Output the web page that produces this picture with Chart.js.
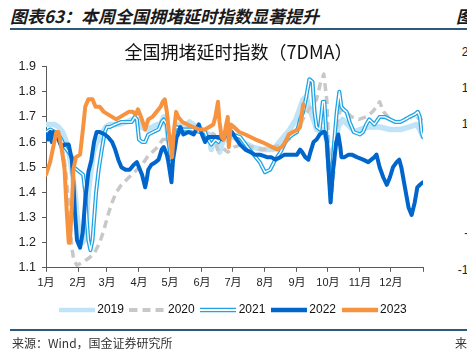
<!DOCTYPE html>
<html lang="zh">
  <head>
    <meta charset="UTF-8" />
    <title>全国拥堵延时指数</title>
    <style>
      body {
        margin: 0;
        background: #fff;
      }

      .page {
        position: relative;
        width: 467px;
        height: 353px;
        overflow: hidden;
        font-family: "Liberation Sans", "Noto Sans CJK SC", sans-serif;
      }

      .heading {
        position: absolute;
        top: 3px;
        font-family: "Noto Sans CJK SC", sans-serif;
        font-size: 17px;
        font-weight: bold;
        font-style: italic;
        color: #1a1a1a;
        white-space: nowrap;
      }

      .rule {
        position: absolute;
        left: 10px;
        height: 1.5px;
        background: #2d5a78;
      }

      .source {
        position: absolute;
        top: 334px;
        font-family: "Noto Sans CJK SC", sans-serif;
        font-size: 12px;
        color: #333;
        white-space: nowrap;
      }

      .next-axis {
        position: absolute;
        right: -8px;
        font-size: 12px;
        color: #222;
        text-align: right;
      }

      .chart-box {
        position: absolute;
        left: 0;
        top: 0;
        width: 467px;
        height: 353px;
      }
    </style>
  </head>
  <body>
    <div class="page">
      <div class="heading" style="left: 10px">图表63：本周全国拥堵延时指数显著提升</div>
      <div class="heading" style="left: 456px">图</div>
      <div class="rule" style="top: 28px; width: 457px"></div>

      <div class="next-axis" style="top: 45px">20</div>
      <div class="next-axis" style="top: 81px">15</div>
      <div class="next-axis" style="top: 117px">10</div>
      <div class="next-axis" style="top: 154px">5</div>
      <div class="next-axis" style="top: 190px">0</div>
      <div class="next-axis" style="top: 226px">-5</div>
      <div class="next-axis" style="top: 263px">-10</div>

      <div class="chart-box"><canvas id="chart"></canvas></div>

      <div class="rule" style="top: 329px; width: 457px"></div>
      <div class="source" style="left: 12px">来源：Wind，国金证券研究所</div>
      <div class="source" style="left: 455px">来</div>
    </div>

    <script src="https://cdn.jsdelivr.net/npm/chart.js"></script>

    <script>
      // day of year where each month starts, plus the year end
      const monthDays = [0, 31, 59, 90, 120, 151, 181, 212, 243, 273, 304, 334, 365];
      const monthLabels = ["1月", "2月", "3月", "4月", "5月", "6月", "7月", "8月", "9月", "10月", "11月", "12月", ""];

      // [day of year, index]
      const s2019 = [
        [0, 1.67], [4, 1.67], [8, 1.67], [12, 1.66], [16, 1.64], [19, 1.61], [22, 1.56], [25, 1.49],
        [28, 1.4], [30, 1.31], [32, 1.24], [35, 1.2], [37, 1.21], [39, 1.29], [41, 1.4], [43, 1.47],
        [46, 1.56], [49, 1.6], [52, 1.61], [55, 1.64], [58, 1.66], [62, 1.67], [70, 1.67], [78, 1.68],
        [84, 1.69], [88, 1.69], [92, 1.66], [97, 1.65], [103, 1.66], [108, 1.67], [111, 1.67], [114, 1.7],
        [117, 1.66], [119, 1.6], [122, 1.54], [124, 1.62], [127, 1.67], [133, 1.66], [139, 1.68], [146, 1.66],
        [154, 1.64], [158, 1.63], [160, 1.57], [163, 1.62], [165, 1.61], [168, 1.56], [171, 1.6], [176, 1.62],
        [181, 1.62], [190, 1.6], [200, 1.58], [210, 1.57], [220, 1.57], [226, 1.6], [230, 1.62], [236, 1.65],
        [242, 1.69], [249, 1.77], [252, 1.78], [255, 1.73], [259, 1.69], [262, 1.65], [266, 1.64], [269, 1.65],
        [272, 1.6], [274, 1.5], [276, 1.45], [279, 1.58], [283, 1.66], [287, 1.69], [292, 1.67], [299, 1.64],
        [304, 1.65], [313, 1.66], [323, 1.66], [333, 1.65], [343, 1.65], [352, 1.66], [359, 1.67], [362, 1.65],
        [365, 1.62],
      ];

      const s2020 = [
        [0, 1.64], [5, 1.65], [10, 1.63], [14, 1.6], [17, 1.55], [19, 1.49], [21, 1.4], [23, 1.29],
        [25, 1.18], [27, 1.13], [30, 1.11], [35, 1.12], [42, 1.14], [47, 1.16], [52, 1.2], [56, 1.25],
        [60, 1.31], [64, 1.36], [68, 1.4], [73, 1.43], [78, 1.45], [83, 1.47], [88, 1.49], [93, 1.51],
        [98, 1.54], [103, 1.56], [108, 1.58], [113, 1.61], [117, 1.61], [121, 1.6], [124, 1.64], [127, 1.66],
        [135, 1.66], [142, 1.65], [150, 1.65], [158, 1.64], [163, 1.63], [166, 1.57], [170, 1.58], [176, 1.56],
        [182, 1.58], [190, 1.59], [200, 1.58], [210, 1.57], [220, 1.58], [228, 1.59], [235, 1.61], [240, 1.64],
        [245, 1.66], [250, 1.7], [256, 1.74], [262, 1.77], [266, 1.84], [269, 1.87], [272, 1.76], [274, 1.55],
        [276, 1.36], [279, 1.5], [282, 1.68], [285, 1.73], [290, 1.72], [296, 1.7], [303, 1.69], [310, 1.7],
        [316, 1.72], [320, 1.74], [323, 1.76], [327, 1.72], [333, 1.69], [340, 1.68], [346, 1.69], [352, 1.7],
        [358, 1.69], [362, 1.7], [365, 1.67],
      ];

      const s2021 = [
        [0, 1.64], [4, 1.65], [9, 1.64], [12, 1.63], [15, 1.61], [18, 1.58], [22, 1.56], [25, 1.54],
        [27, 1.5], [30, 1.49], [33, 1.48], [36, 1.47], [38, 1.4], [39.5, 1.29], [41, 1.21], [43, 1.17],
        [45, 1.21], [46.5, 1.29], [48.5, 1.4], [51, 1.49], [54, 1.57], [57, 1.64], [59, 1.66], [62, 1.66],
        [67, 1.67], [73, 1.68], [78, 1.68], [83, 1.68], [86, 1.7], [88, 1.69], [90, 1.61], [93, 1.6],
        [96, 1.6], [99, 1.63], [104, 1.64], [109, 1.65], [112, 1.68], [114, 1.69], [117, 1.67], [118.5, 1.61],
        [120, 1.56], [121.5, 1.53], [123, 1.6], [126, 1.66], [133, 1.65], [141, 1.65], [149, 1.64], [154, 1.64],
        [157, 1.61], [160, 1.59], [164, 1.61], [167, 1.6], [170, 1.63], [175, 1.64], [181, 1.63], [188, 1.62],
        [197, 1.57], [207, 1.52], [212, 1.48], [217, 1.49], [222, 1.53], [227, 1.56], [233, 1.61], [239, 1.63],
        [243, 1.64], [246, 1.69], [249, 1.72], [252, 1.78], [255, 1.85], [258, 1.84], [260, 1.72], [262, 1.66],
        [265, 1.65], [268, 1.76], [269.5, 1.76], [271, 1.66], [273, 1.53], [275.5, 1.4], [279, 1.6], [281.5, 1.72],
        [284, 1.8], [286, 1.74], [288, 1.73], [291, 1.72], [294, 1.68], [298, 1.64], [304, 1.63], [307, 1.64],
        [310, 1.67], [313, 1.69], [318, 1.67], [323, 1.7], [328, 1.7], [333, 1.69], [338, 1.68], [343, 1.68],
        [348, 1.69], [352, 1.7], [357, 1.71], [360, 1.72], [362, 1.7], [363.5, 1.64], [365, 1.62],
      ];

      const s2022 = [
        [0, 1.63], [2, 1.61], [4, 1.64], [5.5, 1.6], [7, 1.64], [10, 1.62], [12, 1.61], [15, 1.58],
        [18, 1.59], [22, 1.59], [25, 1.53], [26.5, 1.44], [28, 1.32], [30, 1.21], [33, 1.18], [35.5, 1.24],
        [38, 1.37], [41, 1.48], [44, 1.53], [46.5, 1.6], [49, 1.64], [52, 1.64], [57, 1.63], [60, 1.62],
        [64, 1.6], [67, 1.57], [70, 1.53], [73, 1.5], [77, 1.49], [81, 1.49], [85, 1.51], [88, 1.52],
        [90, 1.5], [93, 1.47], [96, 1.42], [97.5, 1.45], [99, 1.49], [102, 1.51], [106, 1.52], [109, 1.53],
        [112, 1.57], [114, 1.58], [117, 1.55], [118.5, 1.52], [120, 1.48], [121.5, 1.44], [123, 1.53], [126.5, 1.62],
        [128, 1.63], [130, 1.66], [133, 1.63], [138, 1.64], [143, 1.63], [148, 1.67], [151, 1.63], [154, 1.6],
        [157, 1.62], [162, 1.62], [167, 1.62], [171, 1.61], [175, 1.63], [180, 1.64], [183, 1.62], [188, 1.59],
        [193, 1.57], [198, 1.56], [202, 1.55], [207, 1.55], [214, 1.54], [218, 1.54], [222, 1.53], [227, 1.54],
        [231, 1.55], [238, 1.55], [243, 1.55], [246, 1.57], [248, 1.56], [251, 1.54], [254, 1.53], [256, 1.56],
        [259, 1.6], [262, 1.61], [265, 1.63], [268, 1.64], [270, 1.64], [272, 1.6], [273.5, 1.49], [275.5, 1.36],
        [278, 1.49], [281, 1.6], [283, 1.63], [285, 1.58], [286, 1.54], [289, 1.54], [293, 1.55], [296, 1.55],
        [301, 1.54], [307, 1.53], [312, 1.52], [315, 1.53], [318, 1.54], [320, 1.55], [323, 1.5], [326.5, 1.46],
        [330, 1.43], [333, 1.46], [336, 1.5], [339.5, 1.52], [342, 1.53], [344, 1.5], [347.5, 1.42], [351, 1.34],
        [354, 1.31], [357, 1.36], [359.5, 1.42], [362, 1.43], [365, 1.44],
      ];

      const s2023 = [
        [0, 1.47], [4, 1.52], [7, 1.58], [10, 1.64], [12, 1.64], [14, 1.6], [16, 1.55], [18, 1.49],
        [20, 1.33], [22, 1.2], [23, 1.2], [25, 1.34], [26.5, 1.49], [29, 1.54], [33, 1.55], [36, 1.66],
        [38, 1.74], [41, 1.77], [45, 1.77], [48, 1.74], [52, 1.74], [56, 1.72], [60, 1.71], [64, 1.7],
        [68, 1.69], [72, 1.7], [76, 1.71], [80, 1.72], [84, 1.72], [87, 1.71], [89, 1.73], [92, 1.7],
        [96, 1.65], [99, 1.69], [103, 1.7], [107, 1.72], [111, 1.74], [113, 1.76], [115, 1.77], [117, 1.72],
        [119, 1.64], [121, 1.58], [122, 1.54], [124, 1.65], [126, 1.72], [128, 1.7], [132, 1.68], [137, 1.67],
        [142, 1.66], [148, 1.65], [154, 1.65], [158, 1.66], [162, 1.67], [164, 1.7], [166.5, 1.76], [168, 1.68],
        [170, 1.62], [172, 1.61], [174, 1.66], [176, 1.7], [177, 1.58], [179, 1.67], [182, 1.66], [187, 1.64],
        [193, 1.63], [198, 1.62], [203, 1.61], [209, 1.6], [214, 1.59], [219, 1.58], [224, 1.57], [228, 1.58],
        [232, 1.6], [235, 1.63], [239, 1.64], [244, 1.65], [246, 1.66], [248, 1.72], [249, 1.75],
      ];

      const colors = {
        2019: "#bfe3f7",
        2020: "#c8c8c8",
        2021: "#1fa5e5",
        2022: "#0066cc",
        2023: "#f7923f",
      };

      function lineSet(label, data, color, width, extra) {
        return Object.assign(
          {
            label,
            data,
            borderColor: color,
            backgroundColor: color,
            borderWidth: width,
            pointRadius: 0,
            pointHoverRadius: 0,
            tension: 0,
            fill: false,
            borderJoinStyle: "round",
            borderCapStyle: "round",
          },
          extra
        );
      }

      // small canvases used as legend swatches
      function swatch(draw) {
        const canvas = document.createElement("canvas");
        canvas.width = 36;
        canvas.height = 10;
        draw(canvas.getContext("2d"));
        return canvas;
      }

      function strokeLine(ctx, color, width, dash) {
        ctx.beginPath();
        ctx.setLineDash(dash || []);
        ctx.strokeStyle = color;
        ctx.lineWidth = width;
        ctx.moveTo(0, 5);
        ctx.lineTo(36, 5);
        ctx.stroke();
      }

      const swatches = {
        2019: swatch((ctx) => strokeLine(ctx, colors[2019], 4.5)),
        2020: swatch((ctx) => strokeLine(ctx, colors[2020], 4, [8, 5])),
        2021: swatch((ctx) => {
          strokeLine(ctx, colors[2021], 4.5);
          strokeLine(ctx, "#fff", 1.8);
        }),
        2022: swatch((ctx) => strokeLine(ctx, colors[2022], 4.5)),
        2023: swatch((ctx) => strokeLine(ctx, colors[2023], 4.5)),
      };

      const legendYears = ["2019", "2020", "2021", "2022", "2023"];

      // first dataset is drawn on top
      const datasets = [
        lineSet("2023", s2023, colors[2023], 4),
        lineSet("2022", s2022, colors[2022], 4),
        lineSet("2021 inner", s2021, "#fff", 1.4),
        lineSet("2021", s2021, colors[2021], 4),
        lineSet("2020", s2020, colors[2020], 3.5, { borderDash: [8, 5], borderCapStyle: "butt" }),
        lineSet("2019", s2019, colors[2019], 5.5),
      ];

      const axisColor = "#5a5a5a";

      new Chart(document.getElementById("chart"), {
        type: "line",
        data: { datasets },
        options: {
          responsive: true,
          maintainAspectRatio: false,
          animation: false,
          events: [],
          layout: { padding: { left: 0, right: 44, top: 0, bottom: 27 } },
          plugins: {
            tooltip: { enabled: false },
            title: {
              display: true,
              text: "  全国拥堵延时指数（7DMA）",
              fullSize: false,
              color: "#111",
              font: { family: "'Noto Sans CJK SC', sans-serif", size: 18, weight: "normal" },
              padding: { top: 41, bottom: 4 },
            },
            legend: {
              position: "bottom",
              fullSize: false,
              labels: {
                usePointStyle: true,
                pointStyleWidth: 29,
                padding: 9,
                color: "#111",
                font: { family: "'Liberation Sans', sans-serif", size: 12 },
                generateLabels: (chart) =>
                  legendYears.map((year) => ({
                    text: year,
                    pointStyle: swatches[year],
                    fontColor: "#111",
                    hidden: false,
                    lineWidth: 0,
                    strokeStyle: "rgba(0,0,0,0)",
                    fillStyle: "rgba(0,0,0,0)",
                    datasetIndex: chart.data.datasets.findIndex((d) => d.label === year),
                  })),
              },
            },
          },
          scales: {
            x: {
              type: "linear",
              min: 0,
              max: 365,
              afterBuildTicks: (scale) => {
                scale.ticks = monthDays.map((value) => ({ value }));
              },
              ticks: {
                autoSkip: false,
                maxRotation: 0,
                minRotation: 0,
                padding: 5,
                color: "#222",
                font: { family: "'Liberation Sans', 'Noto Sans CJK SC', sans-serif", size: 11 },
                callback: (value, index) => monthLabels[index],
              },
              grid: { drawOnChartArea: false, tickLength: 4, color: axisColor },
              border: { color: axisColor },
            },
            y: {
              min: 1.1,
              max: 1.9,
              afterFit: (scale) => {
                scale.width = 46;
              },
              ticks: {
                stepSize: 0.1,
                padding: 6,
                color: "#222",
                font: { family: "'Liberation Sans', sans-serif", size: 12.5 },
                callback: (value) => value.toFixed(1),
              },
              grid: { drawOnChartArea: false, tickLength: 4, color: axisColor },
              border: { color: axisColor },
            },
          },
        },
      });
    </script>
  </body>
</html>
